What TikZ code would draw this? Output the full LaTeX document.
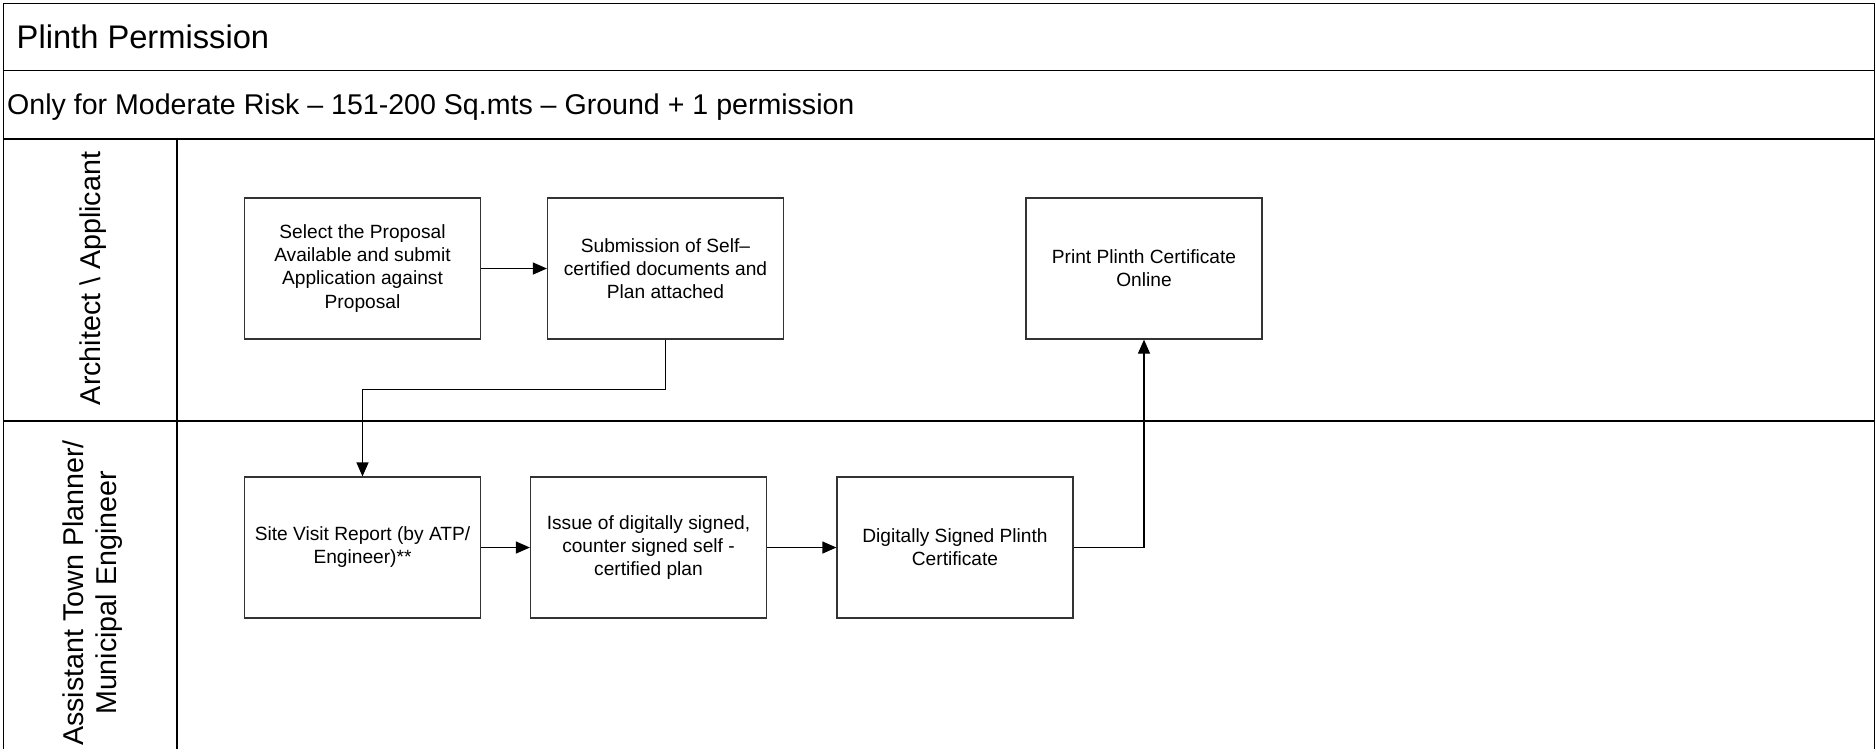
\documentclass[tikz,border=0pt]{standalone}
\usepackage{fontspec}
\setmainfont{Liberation Sans}
\usetikzlibrary{arrows.meta}

\tikzset{
  procbox/.style={draw=black!80, line width=0.35pt, minimum width=2.36cm, minimum height=1.41cm,
    inner sep=0pt, align=center, font=\fontsize{5.45}{6.55}\selectfont},
  lanetext/.style={rotate=90, align=center, inner sep=0pt, font=\fontsize{8.15}{9.6}\selectfont},
  flow/.style={line width=0.35pt, -{Triangle[length=0.14cm, width=0.12cm]}},
  frameline/.style={line width=0.45pt},
}

\begin{document}
\begin{tikzpicture}
			%%%%% FRAME %%%%%
			\useasboundingbox (0,0) rectangle (18.76,-7.49);
			
			\draw[frameline] (0.036,-7.49) -- (0.036,-0.036) -- (18.745,-0.036) -- (18.745,-7.49);
			\draw[frameline] (0.036,-0.706) -- (18.745,-0.706);
			\draw[frameline] (0.036,-1.388) -- (18.745,-1.388);
			\draw[frameline] (0.036,-4.21) -- (18.745,-4.21);
			\draw[frameline] (1.77,-1.388) -- (1.77,-7.49);
			
			\node[anchor=base west, inner sep=0pt, font=\fontsize{9.3}{11}\selectfont] (title) at (0.16,-0.488) {Plinth Permission};
			\node[anchor=base west, inner sep=0pt, font=\fontsize{8.13}{10}\selectfont] (subtitle) at (0.065,-1.145) {Only for Moderate Risk – 151-200 Sq.mts – Ground + 1 permission};
			
			\node[lanetext] (laneA) at (0.935,-2.785) {Architect \textbackslash{} Applicant};
			\node[lanetext] (laneB) at (0.925,-5.93) {Assistant Town Planner/\\Municipal Engineer};
			
			%%%%% STEPS %%%%%
			\node[procbox] (select) at (3.625,-2.685) {Select the Proposal\\Available and submit\\Application against\\Proposal};
			\node[procbox] (submit) at (6.655,-2.685) {Submission of Self–\\certified documents and\\Plan attached};
			\node[procbox] (print) at (11.44,-2.685) {Print Plinth Certificate\\Online};
			
			\node[procbox] (visit) at (3.625,-5.475) {Site Visit Report (by ATP/\\Engineer)**};
			\node[procbox] (issue) at (6.485,-5.475) {Issue of digitally signed,\\counter signed self -\\certified plan};
			\node[procbox] (signed) at (9.55,-5.475) {Digitally Signed Plinth\\Certificate};
			
			\draw[flow] (select.east) -- (submit.west);
			\draw[flow] (submit.south) -- ++(0,-0.5) -| (visit.north);
			\draw[flow] (visit.east) -- (issue.west);
			\draw[flow] (issue.east) -- (signed.west);
			\draw[flow] (signed.east) -| (print.south);
			
			%%%%% END %%%%%
\end{tikzpicture}
\end{document}
